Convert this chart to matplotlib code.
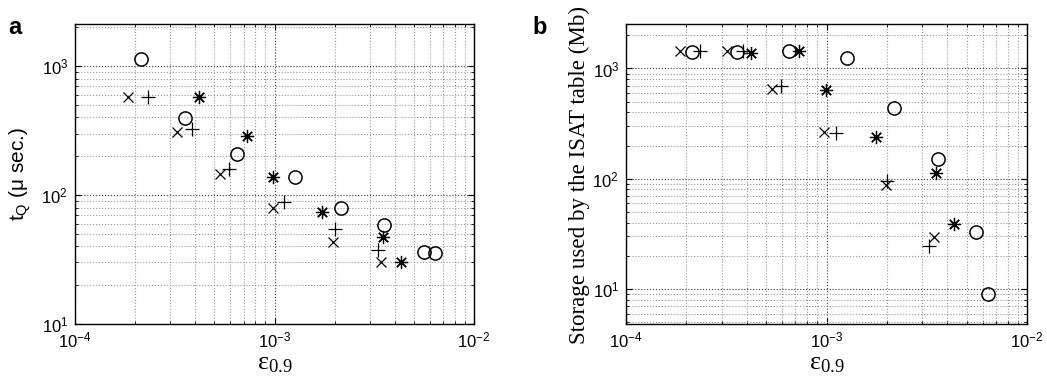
import matplotlib
matplotlib.use("Agg")
import matplotlib.pyplot as plt
from matplotlib.ticker import LogLocator, NullFormatter

plt.rcParams['font.family'] = ['Liberation Sans', 'DejaVu Sans']
plt.rcParams['mathtext.fontset'] = 'custom'
plt.rcParams['mathtext.rm'] = 'Liberation Sans'
plt.rcParams['mathtext.it'] = 'Liberation Sans:italic'
plt.rcParams['mathtext.bf'] = 'Liberation Sans:bold'
plt.rcParams['mathtext.default'] = 'regular'

# ---- Panel a: query time t_Q (micro sec.) vs eps_0.9 ----
a_x_eps = [1.85e-4, 3.23e-4, 5.33e-4, 9.8e-4, 1.96e-3, 3.43e-3]
a_x_t = [575, 306, 145, 80, 43.5, 30]
a_p_eps = [2.33e-4, 3.85e-4, 5.9e-4, 1.11e-3, 2.0e-3, 3.29e-3]
a_p_t = [575, 325, 158, 89, 55, 37.5]
a_s_eps = [4.2e-4, 7.3e-4, 9.86e-4, 1.74e-3, 3.5e-3, 4.3e-3]
a_s_t = [575, 287, 139, 73.4, 47.5, 30.4]
a_o_eps = [2.13e-4, 3.57e-4, 6.5e-4, 1.26e-3, 2.15e-3, 3.55e-3, 5.62e-3, 6.38e-3]
a_o_t = [1127, 393, 209, 137, 79, 58.5, 36.4, 35.3]

# ---- Panel b: storage (Mb) vs eps_0.9 ----
b_x_eps = [1.85e-4, 3.2e-4, 5.37e-4, 9.7e-4, 1.97e-3, 3.44e-3]
b_x_mb = [1450, 1450, 655, 265, 88, 29.7]
b_p_eps = [2.34e-4, 3.85e-4, 5.9e-4, 1.11e-3, 2.0e-3, 3.25e-3]
b_p_mb = [1450, 1450, 687, 260, 95, 24.7]
b_s_eps = [4.19e-4, 7.32e-4, 9.9e-4, 1.76e-3, 3.52e-3, 4.33e-3]
b_s_mb = [1390, 1425, 641, 239, 112, 38.5]
b_o_eps = [2.14e-4, 3.56e-4, 6.48e-4, 1.26e-3, 2.17e-3, 3.61e-3, 5.55e-3, 6.41e-3]
b_o_mb = [1405, 1405, 1425, 1250, 437, 150, 32.6, 9.0]

xlim = (1e-4, 1e-2)
a_ylim = (10, 2120)
b_ylim = (4.82, 2530)

fig = plt.figure(figsize=(10.47, 3.81), dpi=100)
W, H = 1047, 381
axA = fig.add_axes([75 / W, (H - 324) / H, 399 / W, 300 / H])
axB = fig.add_axes([626 / W, (H - 324) / H, 401 / W, 300 / H])

asterisk = (8, 2, 0)


def draw(ax, series, ylim):
    for xs, ys, m, ms in series:
        if m == 'o':
            ax.plot(xs, ys, marker='o', markersize=9.5, markerfacecolor='none',
                    markeredgecolor='black', markeredgewidth=1.1,
                    color='black', linestyle='none')
        else:
            ax.plot(xs, ys, marker=m, markersize=ms, markeredgewidth=0.9,
                    color='black', linestyle='none')
    ax.set_xscale('log')
    ax.set_yscale('log')
    ax.set_xlim(*xlim)
    ax.set_ylim(*ylim)
    ax.xaxis.set_major_locator(LogLocator(base=10, numticks=10))
    ax.yaxis.set_major_locator(LogLocator(base=10, numticks=10))
    ax.xaxis.set_minor_locator(LogLocator(base=10, subs=range(2, 10), numticks=20))
    ax.yaxis.set_minor_locator(LogLocator(base=10, subs=range(2, 10), numticks=20))
    ax.xaxis.set_minor_formatter(NullFormatter())
    ax.yaxis.set_minor_formatter(NullFormatter())
    ax.grid(True, which='major', linestyle=':', color='0.25', linewidth=0.8)
    ax.grid(True, which='minor', linestyle=':', color='0.6', linewidth=0.8)
    ax.set_axisbelow(True)
    ax.tick_params(which='both', direction='in', top=True, right=True,
                   labelsize=12, colors='black')
    ax.tick_params(which='major', length=4, width=0.8, pad=5)
    ax.tick_params(which='minor', length=2, width=0.6)
    for s in ax.spines.values():
        s.set_linewidth(1.0)
        s.set_color('black')
    ax.set_xlabel(r'$\mathregular{ε_{0.9}}$', family='Liberation Serif',
                  fontsize=19, labelpad=1.5)


draw(axA, [(a_x_eps, a_x_t, 'x', 7), (a_p_eps, a_p_t, '+', 9.5),
           (a_s_eps, a_s_t, asterisk, 9.5), (a_o_eps, a_o_t, 'o', 9.5)], a_ylim)
draw(axB, [(b_x_eps, b_x_mb, 'x', 7), (b_p_eps, b_p_mb, '+', 9.5),
           (b_s_eps, b_s_mb, asterisk, 9.5), (b_o_eps, b_o_mb, 'o', 9.5)], b_ylim)

axA.set_ylabel(r'$\mathregular{t_Q}$ (μ sec.)', fontsize=15)
axA.yaxis.set_label_coords(-0.105, 0.5)
axB.set_ylabel('Storage used by the ISAT table (Mb)', family='Liberation Serif',
               fontsize=16.6)
axB.yaxis.set_label_coords(-0.09, 0.495)

fig.text(8 / W, 1 - 34 / H, 'a', fontsize=17, fontweight='bold')
fig.text(532 / W, 1 - 34 / H, 'b', fontsize=17, fontweight='bold')

fig.savefig('out.png', dpi=100)
